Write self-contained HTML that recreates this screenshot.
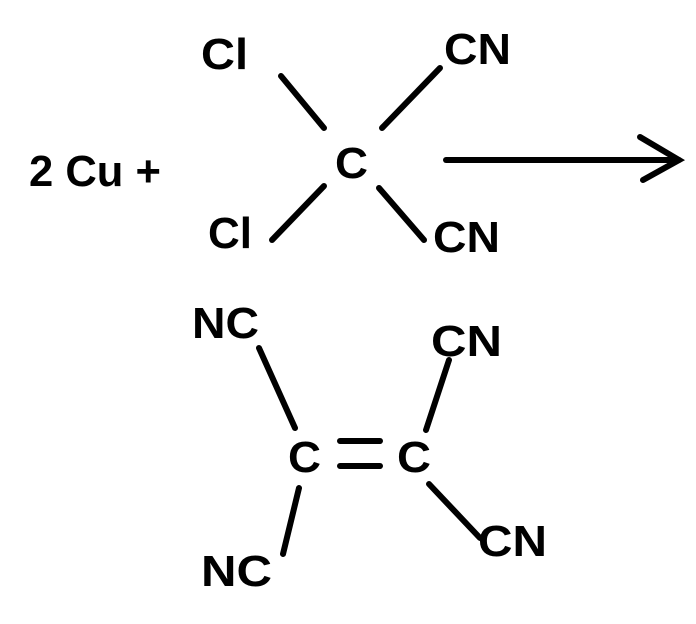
<!DOCTYPE html>
<html><head><meta charset="utf-8"><style>
html,body{margin:0;padding:0;background:#fff;}
svg{display:block;}
text{font-family:"Liberation Sans",sans-serif;font-weight:bold;fill:#000;font-size:44px;}
</style></head><body>
<svg width="696" height="624" viewBox="0 0 696 624" xmlns="http://www.w3.org/2000/svg">
<g stroke="#000" stroke-width="6" stroke-linecap="round" fill="none">
<line x1="281" y1="76" x2="324" y2="128"/>
<line x1="440" y1="68" x2="382" y2="128"/>
<line x1="324" y1="186" x2="272" y2="240"/>
<line x1="379" y1="188" x2="424" y2="240"/>
<line x1="446" y1="160" x2="679" y2="160"/>
<polyline points="640,137 679,160 643,180"/>
<line x1="259" y1="348" x2="295" y2="428"/>
<line x1="449" y1="360" x2="426" y2="430"/>
<line x1="299" y1="488" x2="283" y2="554"/>
<line x1="429" y1="484" x2="480" y2="538"/>
<line x1="340" y1="441" x2="380" y2="441"/>
<line x1="340" y1="466" x2="380" y2="466"/>
</g>
<text x="201" y="69" textLength="47" lengthAdjust="spacingAndGlyphs">Cl</text>
<text x="444" y="64" textLength="67" lengthAdjust="spacingAndGlyphs">CN</text>
<text x="29" y="186" textLength="132" lengthAdjust="spacingAndGlyphs">2 Cu +</text>
<text x="335" y="178" textLength="33" lengthAdjust="spacingAndGlyphs">C</text>
<text x="208" y="248" textLength="44" lengthAdjust="spacingAndGlyphs">Cl</text>
<text x="433" y="252" textLength="67" lengthAdjust="spacingAndGlyphs">CN</text>
<text x="192" y="338" textLength="67" lengthAdjust="spacingAndGlyphs">NC</text>
<text x="431" y="356" textLength="71" lengthAdjust="spacingAndGlyphs">CN</text>
<text x="288" y="472" textLength="33" lengthAdjust="spacingAndGlyphs">C</text>
<text x="397" y="472" textLength="34" lengthAdjust="spacingAndGlyphs">C</text>
<text x="201" y="586" textLength="71" lengthAdjust="spacingAndGlyphs">NC</text>
<text x="478" y="556" textLength="69" lengthAdjust="spacingAndGlyphs">CN</text>
</svg>
</body></html>
